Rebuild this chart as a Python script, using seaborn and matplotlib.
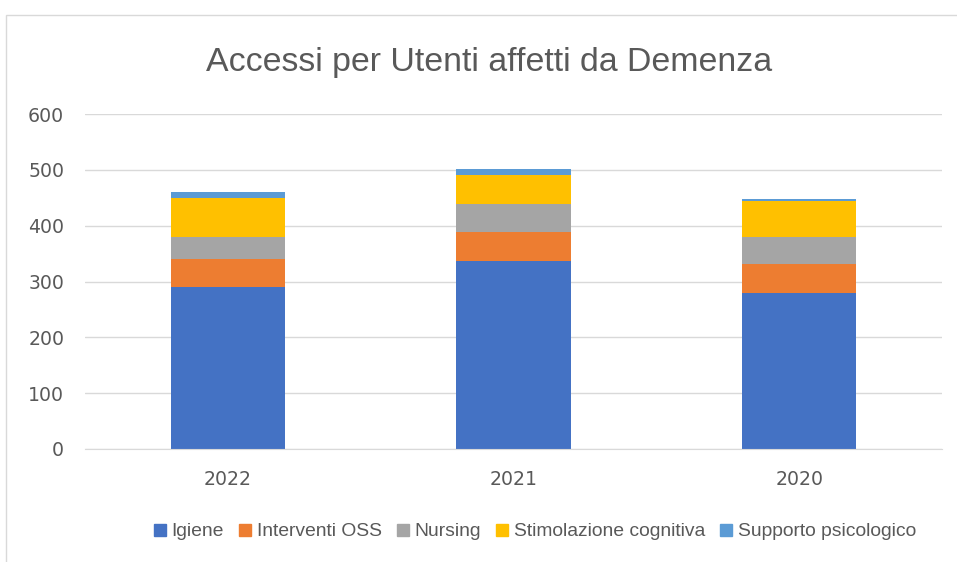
import seaborn as sns
import matplotlib.pyplot as plt
import matplotlib.patches as mpatches
import pandas as pd
import numpy as np

# DATA #
anni = ['2022', '2021', '2020']
categorie = ['Igiene', 'Interventi OSS', 'Nursing', 'Stimolazione cognitiva', 'Supporto psicologico']
igiene = [290, 336, 280]
interventi_oss = [51, 52, 51]
nursing = [39, 50, 49]
stimolazione = [69, 52, 64]
supporto = [12, 11, 4]
colori = ['#4472C4', '#ED7D31', '#A5A5A5', '#FFC000', '#5B9BD5']

valori = [igiene, interventi_oss, nursing, stimolazione, supporto]
df = pd.DataFrame({'Anno': anni})
for cat, v in zip(categorie, valori):
    df[cat] = v
cum = df[categorie].cumsum(axis=1)

# PLOT #
sns.set_style('white')
plt.rcParams['font.family'] = ['DejaVu Sans']
fig = plt.figure(figsize=(9.57, 5.62), dpi=100)
ax = fig.add_axes([85 / 957, 1 - 449 / 562, 857 / 957, 335 / 562])

# stacked bars: draw cumulative totals from the top segment down
for cat, col in reversed(list(zip(categorie, colori))):
    sns.barplot(x=df['Anno'], y=cum[cat], color=col, width=0.4, ax=ax,
                linewidth=0, saturation=1)

ax.set_ylim(0, 600)
ax.set_yticks(range(0, 601, 100))
ax.yaxis.grid(True, color='#D9D9D9', linewidth=1)
ax.set_axisbelow(True)
sns.despine(ax=ax, left=True, top=True, right=True)
ax.spines['bottom'].set_color('#D9D9D9')
ax.set_xlabel('')
ax.set_ylabel('')
ax.tick_params(axis='both', length=0, labelsize=13.6, colors='#595959')
ax.tick_params(axis='y', pad=15)
ax.tick_params(axis='x', pad=15)

fig.text(489.5 / 957, 1 - 63 / 562, 'Accessi per Utenti affetti da Demenza', ha='center', va='center',
         fontsize=24.4, color='#595959', family=['Liberation Sans', 'DejaVu Sans'])

handles = [mpatches.Patch(color=c, label=l) for c, l in zip(colori, categorie)]
fig.legend(handles=handles, loc='center', bbox_to_anchor=(535 / 957, 1 - 532 / 562), ncol=5,
           frameon=False, handlelength=0.6, handleheight=0.6,
           handletextpad=0.3, columnspacing=0.8, labelcolor='#595959',
           prop={'family': ['Liberation Sans', 'DejaVu Sans'], 'size': 13.9})

border = mpatches.Rectangle((5.5 / 957, -0.02), 1.05, 1 - 14.5 / 562 + 0.02, transform=fig.transFigure,
                            fill=False, edgecolor='#D9D9D9', linewidth=1)
fig.patches.append(border)

fig.savefig('out.png', dpi=100)
